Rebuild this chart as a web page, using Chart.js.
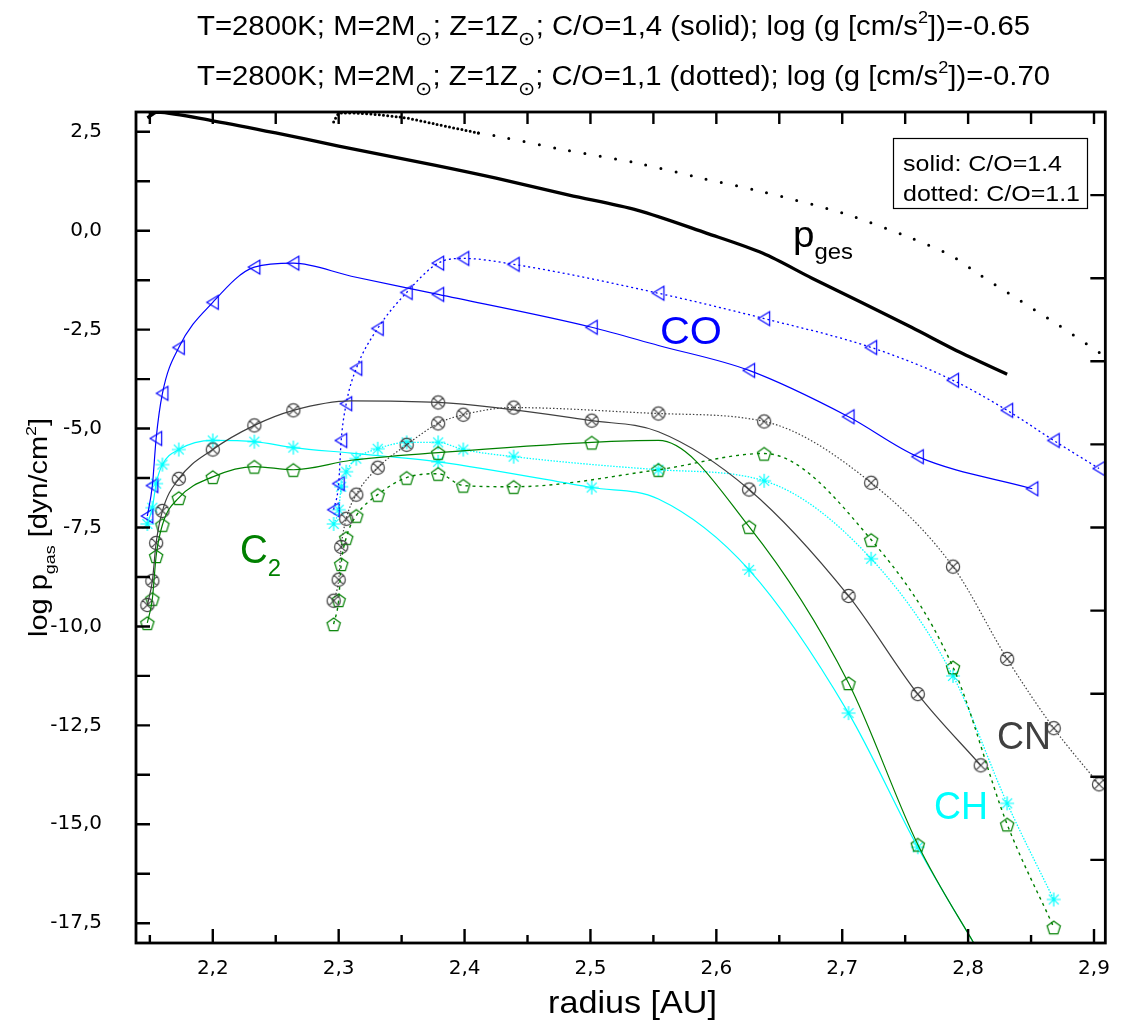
<!DOCTYPE html>
<html><head><meta charset="utf-8">
<style>html,body{margin:0;padding:0;background:#fff;}#wrap{width:1124px;height:1027px;}</style>
<script src="https://cdn.jsdelivr.net/npm/chart.js@4.4.1/dist/chart.umd.min.js"></script>
</head><body><div id="wrap"><canvas id="c" width="1124" height="1027"></canvas></div>
<script>
// ---------------- data ----------------
const xTicks = [2.2, 2.3, 2.4, 2.5, 2.6, 2.7, 2.8, 2.9];
const yTicks = [-17.5, -15, -12.5, -10, -7.5, -5, -2.5, 0, 2.5];

// radius grid of the C/O=1.4 (solid) model points with symbols
const xSolid  = [2.148, 2.152, 2.155, 2.160, 2.173, 2.200, 2.233, 2.264, 2.379, 2.501, 2.626, 2.705, 2.760, 2.810];
const xSolidCO = [2.148, 2.152, 2.155, 2.160, 2.173, 2.200, 2.233, 2.264, 2.379, 2.501, 2.626, 2.705, 2.760, 2.851];
// radius grid of the C/O=1.1 (dotted) model points with symbols
const xDotted = [2.296, 2.300, 2.302, 2.306, 2.314, 2.331, 2.354, 2.379, 2.399, 2.439, 2.554, 2.638, 2.723, 2.788, 2.831, 2.868, 2.904];

// CO
const coSolid  = [-7.21, -6.44, -5.25, -4.11, -2.95, -1.81, -0.92, -0.82, -1.61, -2.44, -3.53, -4.70, -5.71, -6.52];
const coDotted = [-7.05, -6.39, -5.30, -4.37, -3.48, -2.47, -1.56, -0.82, -0.70, -0.85, -1.58, -2.22, -2.95, -3.78, -4.54, -5.30, -6.01];
// CN
const cnSolid  = [-9.46, -8.85, -7.89, -7.08, -6.27, -5.53, -4.92, -4.54, -4.34, -4.80, -6.54, -9.23, -11.71, -13.51];
const cnDotted = [-9.35, -8.82, -7.99, -7.28, -6.67, -5.99, -5.41, -4.87, -4.65, -4.47, -4.62, -4.82, -6.37, -8.49, -10.82, -12.57, -13.99];
// C2
const c2Solid  = [-9.91, -9.30, -8.22, -7.43, -6.75, -6.22, -5.96, -6.04, -5.61, -5.35, -7.48, -11.43, -15.51, -18.30];
const c2Dotted = [-9.94, -9.33, -8.42, -7.76, -7.20, -6.67, -6.24, -6.14, -6.44, -6.47, -6.04, -5.63, -7.81, -11.03, -15.00, -17.60];
// CH
const chSolid  = [-7.41, -7.00, -6.39, -5.91, -5.53, -5.30, -5.33, -5.48, -5.84, -6.49, -8.57, -12.19, -15.58, -18.30];
const chDotted = [-7.41, -7.05, -6.47, -6.09, -5.76, -5.51, -5.35, -5.35, -5.53, -5.71, -6.04, -6.32, -8.29, -11.25, -14.47, -16.90];

// extra curve points of the solid models (no symbol drawn there)
const xSolidExtra = [2.310, 2.554];
const cnSolidExtra = [-4.30, -5.08];
const c2SolidExtra = [-5.80, -5.30];
const chSolidExtra = [-5.62, -6.78];
const coSolidExtra = [-1.15, -2.90];

// total gas pressure p_ges
const pgesSolidX = [2.148, 2.156, 2.201, 2.250, 2.300, 2.376, 2.425, 2.483, 2.537, 2.592, 2.637, 2.676, 2.715, 2.755, 2.794, 2.831];
const pgesSolidY = [2.85, 3.00, 2.77, 2.47, 2.14, 1.66, 1.33, 0.90, 0.52, -0.06, -0.57, -1.20, -1.81, -2.44, -3.08, -3.63];
const pgesDotX = [2.296, 2.301, 2.349, 2.376, 2.411, 2.426, 2.480, 2.537, 2.588, 2.637, 2.701, 2.751, 2.786, 2.810, 2.841, 2.872, 2.909];
const pgesDotY = [2.75, 2.97, 2.87, 2.70, 2.47, 2.39, 2.04, 1.71, 1.33, 0.98, 0.44, -0.14, -0.62, -1.13, -1.76, -2.39, -3.18];

// ---------------- helpers ----------------
function pts(xs, ys) { const o = []; for (let i = 0; i < ys.length && i < xs.length; i++) o.push({x: xs[i], y: ys[i]}); return o; }
function curve(xs, ys, ex, ey) {
  const o = pts(xs, ys).concat(ex ? pts(ex, ey) : []);
  o.sort((a, b) => a.x - b.x); return o;
}
function marker(kind, color) {
  const s = 20, m = s / 2, c = document.createElement('canvas');
  c.width = s; c.height = s;
  const g = c.getContext('2d');
  g.strokeStyle = color; g.lineWidth = 1.2; g.beginPath();
  if (kind === 'tri') {
    g.moveTo(m - 6, m); g.lineTo(m + 5.5, m - 7); g.lineTo(m + 5.5, m + 7); g.closePath();
  } else if (kind === 'otimes') {
    g.arc(m, m, 6.6, 0, Math.PI * 2);
    const d = 6.6 * Math.SQRT1_2;
    g.moveTo(m - d, m - d); g.lineTo(m + d, m + d); g.moveTo(m + d, m - d); g.lineTo(m - d, m + d);
  } else if (kind === 'pent') {
    for (let i = 0; i < 5; i++) {
      const a = -Math.PI / 2 + i * 2 * Math.PI / 5;
      const px = m + 7 * Math.cos(a), py = m + 0.9 + 7 * Math.sin(a);
      if (i === 0) g.moveTo(px, py); else g.lineTo(px, py);
    }
    g.closePath();
  } else if (kind === 'star') {
    for (let i = 0; i < 4; i++) {
      const a = i * Math.PI / 4;
      g.moveTo(m + 7 * Math.cos(a), m + 7 * Math.sin(a));
      g.lineTo(m - 7 * Math.cos(a), m - 7 * Math.sin(a));
    }
  }
  g.stroke(); return c;
}

const BLUE = '#0000ff', GRAY = '#404040', GREEN = '#008000', CYAN = '#00ffff';

function lineDS(data, color, width, dash) {
  return {data, showLine: true, pointRadius: 0, pointHoverRadius: 0, borderColor: color,
    borderWidth: width, borderDash: dash || [], cubicInterpolationMode: 'monotone', fill: false};
}
function markDS(data, img) {
  return {data, showLine: false, pointStyle: img, pointRadius: 7, pointHoverRadius: 7,
    borderColor: 'rgba(0,0,0,0)', backgroundColor: 'rgba(0,0,0,0)'};
}

const mk = {
  co: marker('tri', BLUE), cn: marker('otimes', GRAY), c2: marker('pent', GREEN), ch: marker('star', CYAN)
};

const datasets = [
  // p_ges
  Object.assign(lineDS(pts(pgesSolidX, pgesSolidY), '#000', 3.3), {cubicInterpolationMode: 'default', tension: 0.3}),
  Object.assign(lineDS(pts(pgesDotX, pgesDotY), '#000', 3.0), {
    cubicInterpolationMode: 'default', tension: 0.3, borderCapStyle: 'round',
    segment: {borderDash: ctx => ctx.p0.parsed.x < 2.41 ? [0, 4.2] : [0, 15.5]}
  }),
  // solid species
  lineDS(curve(xSolidCO, coSolid, xSolidExtra, coSolidExtra), BLUE, 1.2),
  lineDS(curve(xSolid, cnSolid, xSolidExtra, cnSolidExtra), GRAY, 1.2),
  lineDS(curve(xSolid, c2Solid, xSolidExtra, c2SolidExtra), GREEN, 1.2),
  lineDS(curve(xSolid, chSolid, xSolidExtra, chSolidExtra), CYAN, 1.2),
  // dotted species
  lineDS(pts(xDotted, coDotted), BLUE, 1.3, [2, 3]),
  lineDS(pts(xDotted, cnDotted), GRAY, 1.2, [1.5, 2]),
  lineDS(pts(xDotted, c2Dotted), GREEN, 1.4, [3, 4]),
  lineDS(pts(xDotted, chDotted), CYAN, 1.3, [1.5, 1.5]),
  // symbols
  markDS(pts(xSolidCO, coSolid), mk.co), markDS(pts(xDotted, coDotted), mk.co),
  markDS(pts(xSolid, cnSolid), mk.cn), markDS(pts(xDotted, cnDotted), mk.cn),
  markDS(pts(xSolid, c2Solid), mk.c2), markDS(pts(xDotted, c2Dotted), mk.c2),
  markDS(pts(xSolid, chSolid), mk.ch), markDS(pts(xDotted, chDotted), mk.ch)
];

// ---------------- text helpers ----------------
const FONT = '"Liberation Sans", Arial, Helvetica, sans-serif';
const SUBF = 0.62;
function partSize(p, size) { return p.sun ? size * 0.72 : (p.sub || p.sup ? size * SUBF : size); }
function richWidth(ctx, parts, size) {
  let w = 0;
  for (const p of parts) { ctx.font = partSize(p, size) + 'px ' + FONT; w += ctx.measureText(p.t).width; }
  return w;
}
// draws rich text starting at x (left) with given baseline; stretched to width if given
function drawRich(ctx, parts, x, y, size, color, width) {
  const nat = richWidth(ctx, parts, size);
  const sx = width ? width / nat : 1;
  ctx.save(); ctx.translate(x, y); ctx.scale(sx, 1);
  ctx.fillStyle = color; ctx.textBaseline = 'alphabetic'; ctx.textAlign = 'left';
  let cx = 0;
  for (const p of parts) {
    ctx.font = partSize(p, size) + 'px ' + FONT;
    const dy = p.sun ? size * 0.36 : (p.sub ? size * 0.32 : (p.sup ? -size * 0.45 : 0));
    ctx.fillText(p.t, cx, dy);
    cx += ctx.measureText(p.t).width;
  }
  ctx.restore();
}

const sun = '\u2299';
const title1 = [{t: 'T=2800K; M=2M'}, {t: sun, sun: 1}, {t: '; Z=1Z'}, {t: sun, sun: 1}, {t: '; C/O=1,4 (solid); log (g [cm/s'}, {t: '2', sup: 1}, {t: '])=-0.65'}];
const title2 = [{t: 'T=2800K; M=2M'}, {t: sun, sun: 1}, {t: '; Z=1Z'}, {t: sun, sun: 1}, {t: '; C/O=1,1 (dotted); log (g [cm/s'}, {t: '2', sup: 1}, {t: '])=-0.70'}];
const yTitle = [{t: 'log p'}, {t: 'gas', sub: 1}, {t: ' [dyn/cm'}, {t: '2', sup: 1}, {t: ']'}];

const decor = {
  id: 'decor',
  afterDraw(chart) {
    const ctx = chart.ctx, a = chart.chartArea, xs = chart.scales.x, ys = chart.scales.y;
    ctx.save();
    // frame
    ctx.strokeStyle = '#000'; ctx.lineWidth = 2.8;
    ctx.strokeRect(a.left, a.top, a.right - a.left, a.bottom - a.top);
    // ticks
    ctx.lineWidth = 2.4; ctx.beginPath();
    for (let k = 43; k <= 58; k++) {
      const v = k * 0.05, px = xs.getPixelForValue(v);
      if (px < a.left + 2 || px > a.right - 2) continue;
      const major = k % 2 === 0, L = major ? 14 : 8;
      ctx.moveTo(px, a.bottom); ctx.lineTo(px, a.bottom - L);
      ctx.moveTo(px, a.top); ctx.lineTo(px, a.top + 12);
    }
    for (let k = -14; k <= 2; k++) {
      const v = k * 1.25, py = ys.getPixelForValue(v);
      if (py < a.top + 2 || py > a.bottom - 2) continue;
      ctx.moveTo(a.left, py); ctx.lineTo(a.left + 14, py);
    }
    // right axis: ten equal divisions
    for (let k = 1; k < 10; k++) {
      const v = ys.max - k * (ys.max - ys.min) / 10, py = ys.getPixelForValue(v);
      ctx.moveTo(a.right, py); ctx.lineTo(a.right - 15, py);
    }
    ctx.stroke();
    // legend box
    ctx.lineWidth = 1.2; ctx.strokeRect(893.5, 138.5, 194, 70);
    drawRich(ctx, [{t: 'solid: C/O=1.4'}], 903, 171, 22, '#000', 159);
    drawRich(ctx, [{t: 'dotted: C/O=1.1'}], 903, 201, 22, '#000', 177);
    // titles
    drawRich(ctx, title1, 197, 35, 27, '#000', 833);
    drawRich(ctx, title2, 197, 85, 27, '#000', 853);
    drawRich(ctx, [{t: 'radius [AU]'}], 548, 1013, 32, '#000', 169);
    ctx.save(); ctx.translate(47, 528); ctx.rotate(-Math.PI / 2);
    drawRich(ctx, yTitle, -109, 0, 25, '#000', 219);
    ctx.restore();
    // curve labels
    drawRich(ctx, [{t: 'p'}, {t: 'ges', sub: 1}], 793, 247, 36, '#000', 60);
    drawRich(ctx, [{t: 'CO'}], 660, 344, 38, BLUE, 62);
    drawRich(ctx, [{t: 'C'}, {t: '2', sub: 1}], 240, 563, 40, GREEN, 41);
    drawRich(ctx, [{t: 'CN'}], 997, 749, 38, GRAY, 54);
    drawRich(ctx, [{t: 'CH'}], 934, 819, 39, CYAN, 54);
    ctx.restore();
  }
};

const fmt = v => Number(v).toFixed(1).replace('.', ',');
const TICKFONT = {family: '"DejaVu Sans", sans-serif', size: 20};

new Chart(document.getElementById('c'), {
  type: 'scatter',
  data: {datasets},
  options: {
    responsive: false, animation: false, events: [],
    layout: {padding: {left: 0, right: 7, top: 112, bottom: 0}},
    plugins: {legend: {display: false}, tooltip: {enabled: false}, title: {display: false}},
    scales: {
      x: {
        type: 'linear', min: 2.139, max: 2.909,
        grid: {display: false, drawTicks: false}, border: {display: false},
        afterBuildTicks: s => { s.ticks = xTicks.map(v => ({value: v})); },
        afterFit: s => { s.height = 84; },
        ticks: {autoSkip: false, maxRotation: 0, padding: 14, color: '#000', font: TICKFONT, callback: fmt}
      },
      y: {
        type: 'linear', min: -18, max: 3,
        grid: {display: false, drawTicks: false}, border: {display: false},
        afterBuildTicks: s => { s.ticks = yTicks.map(v => ({value: v})); },
        afterFit: s => { s.width = 136; },
        ticks: {autoSkip: false, padding: 34, color: '#000', font: TICKFONT, callback: fmt}
      }
    }
  },
  plugins: [decor]
});
</script></body></html>
